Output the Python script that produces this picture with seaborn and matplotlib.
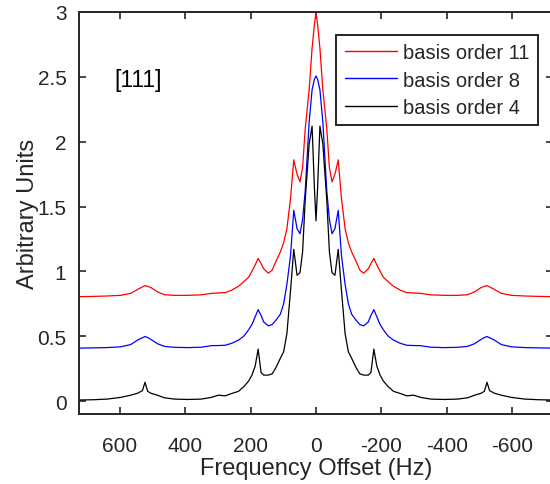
import numpy as np
import pandas as pd
import matplotlib
matplotlib.use("Agg")
import matplotlib.pyplot as plt
import seaborn as sns

# ---------------- data ----------------
freq_hz = [725, 680, 639, 598, 567, 546, 531, 523, 515, 505, 485, 464, 433, 392, 351, 320, 299, 278,
           258, 237, 221, 206, 196, 186, 177, 168, 160, 146, 134, 122, 109, 99, 89, 78, 68, 58, 49,
           41, 33, 21, 12, 5, 0,
           -5, -12, -21, -33, -41, -49, -58, -68, -78, -89, -99, -109, -122, -134, -146, -160, -168,
           -177, -186, -196, -206, -221, -237, -258, -278, -299, -320, -351, -392, -433, -464, -485,
           -505, -515, -523, -531, -546, -567, -598, -639, -680, -725]

order4 = [0.008, 0.010, 0.015, 0.028, 0.045, 0.060, 0.080, 0.145, 0.075, 0.060, 0.045, 0.025, 0.015,
          0.012, 0.015, 0.028, 0.045, 0.040, 0.058, 0.075, 0.110, 0.155, 0.200, 0.270, 0.400, 0.220,
          0.200, 0.200, 0.210, 0.260, 0.330, 0.380, 0.520, 0.850, 1.170, 0.970, 0.990, 1.150, 1.550,
          1.980, 2.120, 1.650, 1.390,
          1.650, 2.120, 1.980, 1.550, 1.150, 0.990, 0.970, 1.170, 0.850, 0.520, 0.380, 0.330, 0.260,
          0.210, 0.200, 0.200, 0.220, 0.400, 0.270, 0.200, 0.155, 0.110, 0.075, 0.058, 0.040, 0.045,
          0.028, 0.015, 0.012, 0.015, 0.025, 0.045, 0.060, 0.075, 0.145, 0.080, 0.060, 0.045, 0.028,
          0.015, 0.010, 0.008]

order8 = [0.008, 0.010, 0.012, 0.018, 0.035, 0.070, 0.088, 0.097, 0.090, 0.075, 0.042, 0.022, 0.014,
          0.012, 0.015, 0.027, 0.028, 0.030, 0.045, 0.070, 0.100, 0.150, 0.190, 0.250, 0.305, 0.260,
          0.210, 0.180, 0.190, 0.225, 0.270, 0.350, 0.500, 0.720, 1.070, 0.930, 0.890, 1.000, 1.220,
          1.750, 2.000, 2.080, 2.107,
          2.080, 2.000, 1.750, 1.220, 1.000, 0.890, 0.930, 1.070, 0.720, 0.500, 0.350, 0.270, 0.225,
          0.190, 0.180, 0.210, 0.260, 0.305, 0.250, 0.190, 0.150, 0.100, 0.070, 0.045, 0.030, 0.028,
          0.027, 0.015, 0.012, 0.014, 0.022, 0.042, 0.075, 0.090, 0.097, 0.088, 0.070, 0.035, 0.018,
          0.012, 0.010, 0.008]

order11 = [0.005, 0.007, 0.010, 0.015, 0.030, 0.060, 0.080, 0.090, 0.085, 0.075, 0.042, 0.020, 0.015,
           0.015, 0.019, 0.030, 0.034, 0.036, 0.055, 0.085, 0.120, 0.155, 0.200, 0.250, 0.300, 0.260,
           0.220, 0.186, 0.210, 0.280, 0.350, 0.420, 0.530, 0.760, 1.060, 0.950, 0.890, 1.000, 1.300,
           1.600, 1.920, 2.100, 2.200,
           2.100, 1.920, 1.600, 1.300, 1.000, 0.890, 0.950, 1.060, 0.760, 0.530, 0.420, 0.350, 0.280,
           0.210, 0.186, 0.220, 0.260, 0.300, 0.250, 0.200, 0.155, 0.120, 0.085, 0.055, 0.036, 0.034,
           0.030, 0.019, 0.015, 0.015, 0.020, 0.042, 0.075, 0.085, 0.090, 0.080, 0.060, 0.030, 0.015,
           0.010, 0.007, 0.005]

series_names = ["basis order 11", "basis order 8", "basis order 4"]
series_values = [order11, order8, order4]
series_offsets = [0.8, 0.4, 0.0]
series_colors = ["#ff0000", "#0000ff", "#000000"]

x_ticks = [600, 400, 200, 0, -200, -400, -600]
x_tick_labels = ["600", "400", "200", "0", "-200", "-400", "-600"]
y_ticks = [0, 0.5, 1, 1.5, 2, 2.5, 3]
y_tick_labels = ["0", "0.5", "1", "1.5", "2", "2.5", "3"]

# ---------------- build long-form table ----------------
frames = []
for name, vals, off in zip(series_names, series_values, series_offsets):
    frames.append(pd.DataFrame({"freq": freq_hz,
                                "value": np.asarray(vals) + off,
                                "series": name}))
df = pd.concat(frames, ignore_index=True)

# ---------------- style ----------------
sns.set_style("ticks")
plt.rcParams["font.family"] = ["Liberation Sans", "DejaVu Sans"]
plt.rcParams["axes.unicode_minus"] = False
dark = "#262626"

fig = plt.figure(figsize=(5.5, 4.85), dpi=100)
ax = fig.add_axes([79 / 550, 70 / 485, 474 / 550, 402 / 485])

sns.lineplot(data=df, x="freq", y="value", hue="series", hue_order=series_names,
             palette=dict(zip(series_names, series_colors)), sort=False,
             linewidth=0.9, ax=ax, legend=True)

ax.set_xlim(725, -725)
ax.set_ylim(-0.1, 3)
ax.set_xticks(x_ticks)
ax.set_xticklabels(x_tick_labels)
ax.set_yticks(y_ticks)
ax.set_yticklabels(y_tick_labels)

ax.tick_params(direction="in", length=5, width=1.2, colors=dark, labelsize=15,
               top=True, right=True)
ax.tick_params(axis="x", pad=16)
ax.tick_params(axis="y", pad=9)
for sp in ax.spines.values():
    sp.set_color(dark)
    sp.set_linewidth(1.4)

ax.set_xlabel("Frequency Offset (Hz)", fontsize=17, color=dark, labelpad=1)
ax.set_ylabel("Arbitrary Units", fontsize=17, color=dark, labelpad=-1.5)

ax.text(138 / 550, 1 - 80 / 485, "[111]", transform=fig.transFigure,
        fontsize=16.5, color="black", ha="center", va="center")

leg = ax.legend(loc="upper right", bbox_to_anchor=(538 / 550, 1 - 36 / 485),
                bbox_transform=fig.transFigure, borderaxespad=0, fontsize=14.5,
                frameon=True, fancybox=False, edgecolor=dark, framealpha=1,
                handlelength=2.6, handletextpad=0.3, labelspacing=0.4, borderpad=0.42)
leg.get_frame().set_linewidth(1.4)
for h in leg.get_lines():
    h.set_linewidth(1.0)

fig.savefig("out.png", dpi=100)
